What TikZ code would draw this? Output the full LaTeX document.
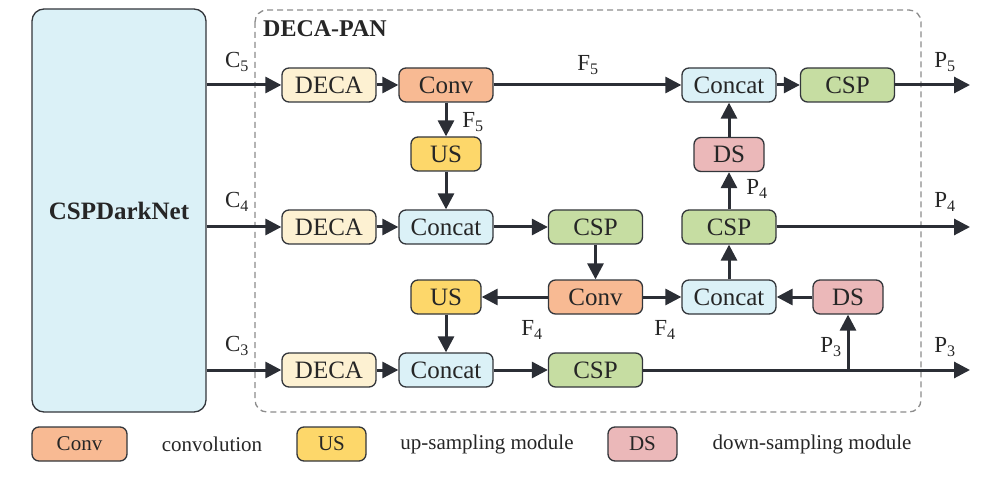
\documentclass[tikz,border=0pt]{standalone}
\usepackage{fontspec}
\setmainfont{Liberation Serif}
\usetikzlibrary{arrows.meta}
\definecolor{deca}{HTML}{FDF1D2}
\definecolor{conv}{HTML}{F8BA93}
\definecolor{us}{HTML}{FDD76A}
\definecolor{concat}{HTML}{DBF1F7}
\definecolor{csp}{HTML}{C6DDA2}
\definecolor{ds}{HTML}{EBB8B9}
\definecolor{edge}{HTML}{33363B}
\definecolor{arr}{HTML}{2B2E35}
\definecolor{ink}{HTML}{262626}
\tikzset{
  blk/.style={draw=edge, line width=1.3pt, rounded corners=7pt, minimum height=34pt, inner sep=0pt,
    font=\fontsize{25}{29}\selectfont, text=ink},
  wide/.style={blk, minimum width=94pt},
  narrow/.style={blk, minimum width=70pt},
  legblk/.style={blk, font=\fontsize{21}{24}\selectfont},
  flow/.style={draw=arr, line width=3pt, -{Triangle[length=16pt,width=16pt]}},
  lab/.style={font=\fontsize{23}{27}\selectfont, text=ink, inner sep=0pt},
  legtxt/.style={font=\fontsize{21}{24}\selectfont, text=ink, inner sep=0pt}
}
\begin{document}
\begin{tikzpicture}[x=1pt,y=-1pt]
\useasboundingbox (0,0) rectangle (996,481);
% frames
\node[draw=edge, line width=1.3pt, fill=concat, rounded corners=12pt, minimum width=174pt, minimum height=403pt, inner sep=0pt,
  font=\bfseries\fontsize{25}{29}\selectfont, text=ink] (dark) at (119,210.5) {CSPDarkNet};
\draw[draw=black!45, line width=1.3pt, dash pattern=on 6pt off 4pt, rounded corners=12pt] (255,10) rectangle (921,412);
\node[anchor=west, inner sep=0pt, font=\bfseries\fontsize{24}{28}\selectfont, text=ink] (title) at (263,29) {DECA-PAN};
% row 1
\node[wide, fill=deca] (deca1) at (329,85) {DECA};
\node[wide, fill=conv] (conv1) at (446,85) {Conv};
\node[wide, fill=concat] (cat1) at (729,85) {Concat};
\node[wide, fill=csp] (csp1) at (847.5,85) {CSP};
\node[narrow, fill=us] (us1) at (446,154) {US};
\node[narrow, fill=ds] (ds1) at (729,154.5) {DS};
% row 2
\node[wide, fill=deca] (deca2) at (329,227) {DECA};
\node[wide, fill=concat] (cat2) at (446,227) {Concat};
\node[wide, fill=csp] (csp2) at (595.5,227) {CSP};
\node[wide, fill=csp] (csp2r) at (729,227) {CSP};
% row 3
\node[narrow, fill=us] (us2) at (446,297) {US};
\node[wide, fill=conv] (conv3) at (595.5,297) {Conv};
\node[wide, fill=concat] (cat3) at (729,297) {Concat};
\node[narrow, fill=ds] (ds2) at (848,297) {DS};
% row 4
\node[wide, fill=deca] (deca4) at (329,370) {DECA};
\node[wide, fill=concat] (cat4) at (446,370) {Concat};
\node[wide, fill=csp] (csp4) at (595.5,370) {CSP};
% output coordinates
\coordinate (o5) at (970,85);
\coordinate (o4) at (970,227);
\coordinate (o3) at (970,370);
\coordinate (br) at (848,370);
% inputs
\draw[flow] (dark.east |- deca1) -- (deca1);
\draw[flow] (dark.east |- deca2) -- (deca2);
\draw[flow] (dark.east |- deca4) -- (deca4);
\node[lab] (c5) at (237,62) {C\textsubscript{5}};
\node[lab] (c4) at (237,202) {C\textsubscript{4}};
\node[lab] (c3) at (237,346) {C\textsubscript{3}};
% row 1 flows
\draw[flow] (deca1) -- (conv1);
\draw[flow] (conv1) -- (cat1);
\node[lab] (f5a) at (588,65) {F\textsubscript{5}};
\draw[flow] (conv1) -- (us1);
\node[lab] (f5b) at (473,122) {F\textsubscript{5}};
\draw[flow] (us1) -- (cat2);
\draw[flow] (cat1) -- (csp1);
\draw[flow] (csp1) -- (o5);
\node[lab] (p5) at (945,62) {P\textsubscript{5}};
% row 2 flows
\draw[flow] (deca2) -- (cat2);
\draw[flow] (cat2) -- (csp2);
\draw[flow] (csp2) -- (conv3);
\draw[flow] (csp2r) -- (ds1);
\node[lab] (p4a) at (757,189) {P\textsubscript{4}};
\draw[flow] (ds1) -- (cat1);
\draw[flow] (csp2r) -- (o4);
\node[lab] (p4b) at (945,202) {P\textsubscript{4}};
% row 3 flows
\draw[flow] (conv3) -- (us2);
\draw[flow] (conv3) -- (cat3);
\node[lab] (f4a) at (532,330) {F\textsubscript{4}};
\node[lab] (f4b) at (665,330) {F\textsubscript{4}};
\draw[flow] (cat3) -- (csp2r);
\draw[flow] (ds2) -- (cat3);
\draw[flow] (us2) -- (cat4);
% row 4 flows
\draw[flow] (deca4) -- (cat4);
\draw[flow] (cat4) -- (csp4);
\draw[flow] (csp4) -- (o3);
\draw[flow] (br) -- (ds2);
\node[lab] (p3a) at (831,347) {P\textsubscript{3}};
\node[lab] (p3b) at (945,347) {P\textsubscript{3}};
% legend
\node[legblk, fill=conv, minimum width=95pt] (lconv) at (79.5,444) {Conv};
\node[legtxt] (tconv) at (212,444) {convolution};
\node[legblk, fill=us, minimum width=69pt] (lus) at (331.5,444) {US};
\node[legtxt] (tus) at (487,444) {up-sampling module};
\node[legblk, fill=ds, minimum width=69pt] (lds) at (642.5,444) {DS};
\node[legtxt] (tds) at (812,444) {down-sampling module};
\end{tikzpicture}
\end{document}
